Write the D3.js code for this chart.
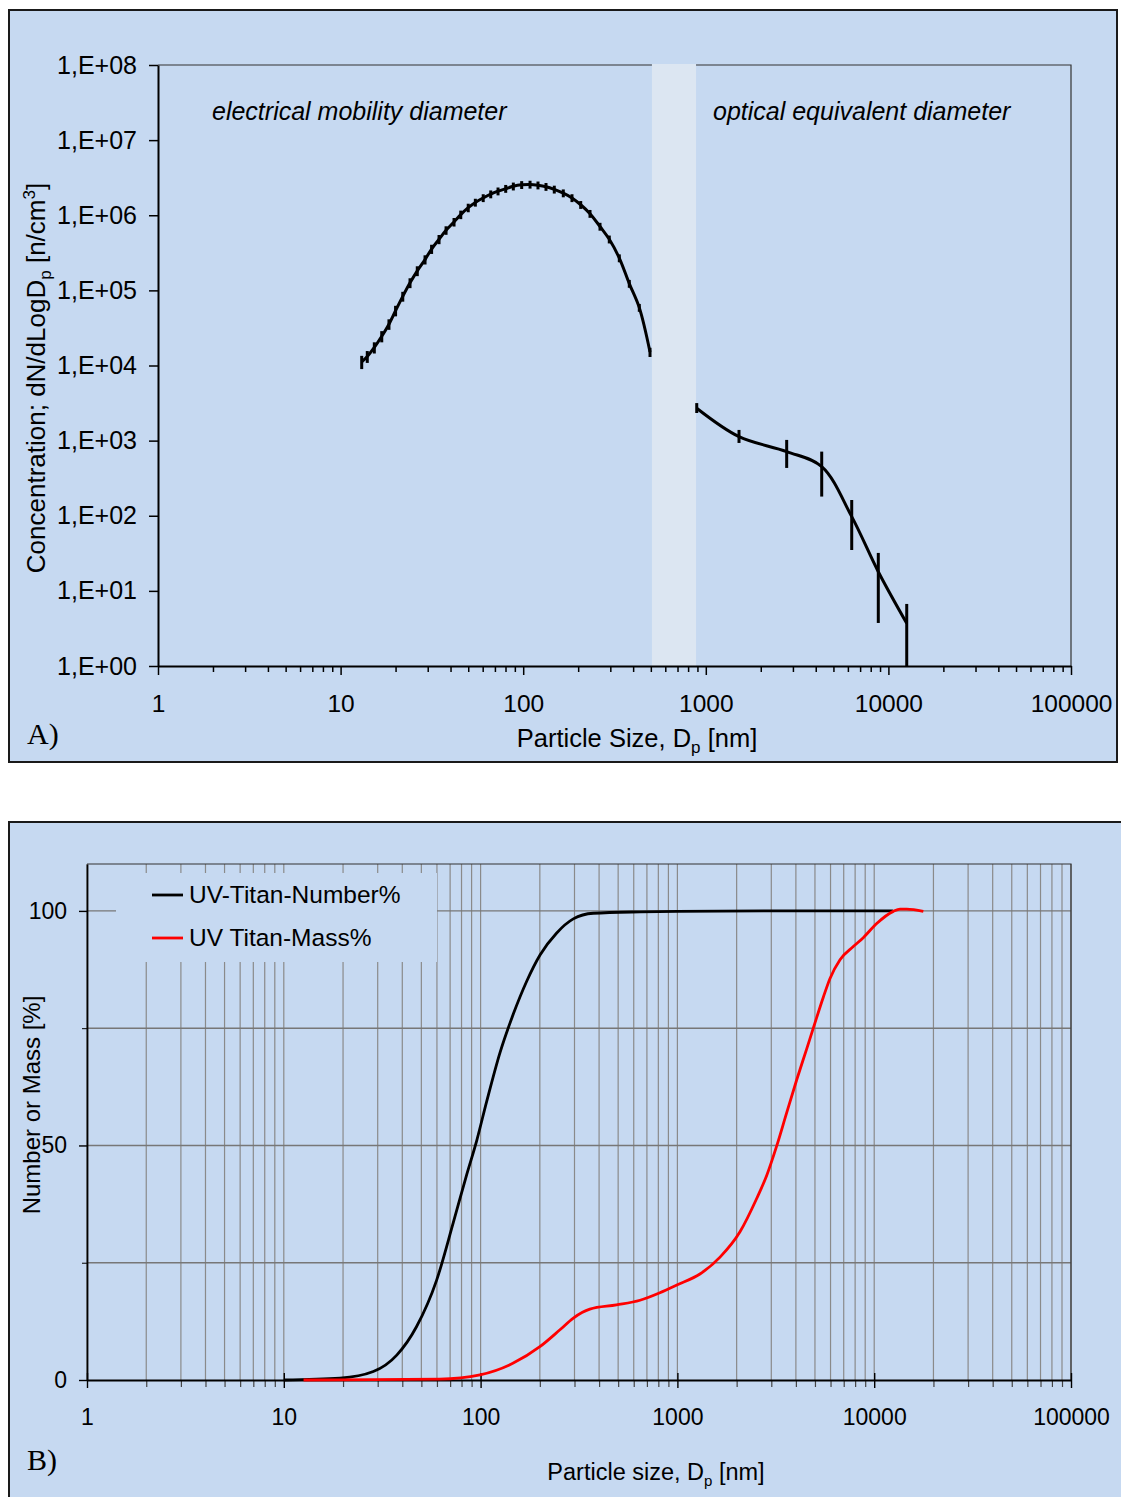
<!DOCTYPE html>
<html>
<head>
<meta charset="utf-8">
<script src="https://cdn.jsdelivr.net/npm/d3@7"></script>
<style>
body { margin: 0; background: #fff; }
svg { display: block; font-family: "Liberation Sans", Arial, sans-serif; }
</style>
</head>
<body>
<svg id="chart" width="1121" height="1497"></svg>
<script>
// ---- panel A: size distribution (SMPS + OPC) ----
smpsSize = [13.05, 14.0, 15.3, 16.8, 18.4, 20.0, 21.9, 24.0, 26.3, 29.0, 31.5, 34.6, 37.8, 41.8, 45.5,
            50.0, 54.7, 60.4, 66.4, 72.8, 80.2, 88.3, 98.1, 109, 120.5, 133.3, 148.0, 165.8, 185.0,
            206.5, 232.2, 263.4, 296.1, 336.0, 381.1, 432.3, 494.8];
smpsConc = [1.12e4, 1.32e4, 1.74e4, 2.45e4, 3.55e4, 5.37e4, 8.32e4, 1.26e5, 1.82e5, 2.57e5, 3.55e5,
            4.79e5, 6.31e5, 8.13e5, 1.02e6, 1.26e6, 1.48e6, 1.70e6, 1.91e6, 2.09e6, 2.26e6, 2.43e6,
            2.54e6, 2.57e6, 2.51e6, 2.40e6, 2.21e6, 1.97e6, 1.70e6, 1.38e6, 1.05e6, 7.08e5, 4.79e5,
            2.69e5, 1.23e5, 5.89e4, 1.51e4];
smpsErr  = [0.20, 0.18, 0.17, 0.17, 0.16, 0.16, 0.15, 0.15, 0.15, 0.14, 0.14, 0.14, 0.13, 0.13, 0.13,
            0.13, 0.12, 0.12, 0.12, 0.12, 0.12, 0.12, 0.12, 0.12, 0.12, 0.12, 0.12, 0.12, 0.12,
            0.12, 0.12, 0.12, 0.12, 0.12, 0.12, 0.12, 0.14];

opcSize  = [892, 1520, 2773, 4313, 6297, 8804, 12600];
opcConc  = [2700, 1130, 714, 451, 97.3, 18.0, 3.70];
opcLo    = [2330, 931, 433, 180, 35, 3.74, 0.5];
opcHi    = [3160, 1388, 1022, 714, 162, 32, 6.7];

bandRange = [507, 884];

yTickLabelsA = ["1,E+00", "1,E+01", "1,E+02", "1,E+03", "1,E+04", "1,E+05", "1,E+06", "1,E+07", "1,E+08"];
xTickLabels  = ["1", "10", "100", "1000", "10000", "100000"];

// ---- panel B: cumulative number / mass ----
numSize  = [10, 19.3, 28.5, 37.5, 47.3, 59.8, 72.7, 85.0, 95.5, 107.4, 125.5, 146.6, 171.5, 200.4,
            243.6, 295.8, 373.8, 645.6, 1000, 3000, 12450];
numPct   = [0, 0.4, 1.8, 5.3, 11.4, 21.3, 33.6, 43.8, 51.0, 59.4, 69.8, 78.0, 85.0, 90.6,
            95.3, 98.3, 99.5, 99.8, 99.9, 100, 100];

massSize = [12.6, 62, 99.3, 146.6, 200, 253, 296, 359, 490, 646, 815, 1000, 1302, 1647, 2080,
            2529, 2843, 3196, 3593, 4039, 4540, 4903, 5513, 5963, 6704, 7830, 8803, 10296,
            12508, 13525, 14628, 17770];
massPct  = [0, 0.2, 1.1, 3.6, 7.1, 10.7, 13.2, 15.1, 16.0, 17.0, 18.6, 20.3, 22.6, 26.2, 31.6,
            38.7, 43.6, 49.9, 57.0, 64.0, 70.6, 75.0, 81.6, 85.6, 89.6, 92.4, 94.3, 97.3,
            99.9, 100.4, 100.4, 99.9];

yTickValuesB = [0, 50, 100];
yTickLabelsB = ["0", "50", "100"];
yGridB = [25, 50, 75, 100];
legendNames = ["UV-Titan-Number%", "UV Titan-Mass%"];
legendColors = ["#000000", "#ff0000"];

const bg = "#c6d9f1";
const svg = d3.select("#chart");
const decades = [1, 10, 100, 1000, 10000, 100000];

function drawPanelA() {
  const x = d3.scaleLog().domain([1, 1e5]).range([158, 1071]);
  const y = d3.scaleLog().domain([1, 1e8]).range([666, 65]);

  svg.append("rect")
      .attr("x", 9).attr("y", 10).attr("width", 1108).attr("height", 752)
      .attr("fill", bg).attr("stroke", "#1a1a1a").attr("stroke-width", 2);

  svg.append("defs").append("clipPath").attr("id", "clipA")
    .append("rect")
      .attr("x", x(1)).attr("y", y(1e8))
      .attr("width", x(1e5) - x(1)).attr("height", y(1) - y(1e8) + 1);

  // plot area border (top / right)
  svg.append("path")
      .attr("d", `M${x(1)},${y(1e8)}H${x(1e5)}V${y(1)}`)
      .attr("fill", "none").attr("stroke", "#333").attr("stroke-width", 1.2);

  // shaded gap between the two instruments
  svg.append("rect")
      .attr("x", x(bandRange[0])).attr("y", y(1e8) - 1)
      .attr("width", x(bandRange[1]) - x(bandRange[0])).attr("height", y(1) - y(1e8) + 1)
      .attr("fill", "#dce6f2");

  // x axis: major + minor ticks
  const minor = x.ticks().filter(d => !decades.includes(d));
  const xAxisMinor = svg.append("g").attr("transform", `translate(0,${y(1)})`)
      .call(d3.axisBottom(x).tickValues(minor).tickSize(6).tickSizeOuter(0).tickFormat(""));
  xAxisMinor.select(".domain").remove();
  xAxisMinor.selectAll("line").attr("stroke-width", 1.5);

  const xAxis = svg.append("g").attr("transform", `translate(0,${y(1)})`)
      .call(d3.axisBottom(x).tickValues(decades).tickSize(9).tickSizeOuter(0)
        .tickFormat((d, i) => xTickLabels[i]));
  xAxis.select(".domain").attr("stroke-width", 2);
  xAxis.selectAll("line").attr("stroke-width", 1.5);
  xAxis.selectAll("text").attr("dy", null).attr("y", 46)
      .style("font-size", "24.5px").attr("fill", "#000");

  const yAxis = svg.append("g").attr("transform", `translate(${x(1)},0)`)
      .call(d3.axisLeft(y).tickValues(d3.range(9).map(i => Math.pow(10, i)))
        .tickSize(9).tickSizeOuter(0).tickPadding(12)
        .tickFormat((d, i) => yTickLabelsA[i]));
  yAxis.select(".domain").attr("stroke-width", 2);
  yAxis.selectAll("line").attr("stroke-width", 1.5);
  yAxis.selectAll("text").style("font-size", "25px").attr("fill", "#000");

  // curves + error bars
  const plot = svg.append("g").attr("clip-path", "url(#clipA)");
  const line = d3.line()
      .x(d => x(d[0])).y(d => y(d[1]))
      .curve(d3.curveCatmullRom.alpha(0.5));

  const smps = smpsSize.map((s, i) => [s, smpsConc[i], smpsConc[i] * (1 - smpsErr[i]), smpsConc[i] * (1 + smpsErr[i])]);
  const opc = opcSize.map((s, i) => [s, opcConc[i], opcLo[i], opcHi[i]]);

  [smps, opc].forEach(series => {
    plot.append("g")
      .selectAll("line")
      .data(series)
      .join("line")
        .attr("x1", d => x(d[0])).attr("x2", d => x(d[0]))
        .attr("y1", d => y(d[2])).attr("y2", d => y(d[3]))
        .attr("stroke", "#000").attr("stroke-width", 3);
    plot.append("path")
        .datum(series)
        .attr("d", line)
        .attr("fill", "none").attr("stroke", "#000").attr("stroke-width", 3);
  });

  // labels
  svg.append("text").attr("x", 212).attr("y", 120)
      .style("font-size", "25px").style("font-style", "italic")
      .text("electrical mobility diameter");
  svg.append("text").attr("x", 713).attr("y", 120)
      .style("font-size", "25px").style("font-style", "italic")
      .text("optical equivalent diameter");

  const xt = svg.append("text").attr("x", 637).attr("y", 747)
      .attr("text-anchor", "middle").style("font-size", "25.5px");
  xt.append("tspan").text("Particle Size, D");
  xt.append("tspan").attr("dy", 6).style("font-size", "17px").text("p");
  xt.append("tspan").attr("dy", -6).text(" [nm]");

  const yt = svg.append("text")
      .attr("transform", "translate(45,378) rotate(-90)")
      .attr("text-anchor", "middle").style("font-size", "26px");
  yt.append("tspan").text("Concentration; dN/dLogD");
  yt.append("tspan").attr("dy", 6).style("font-size", "17px").text("p");
  yt.append("tspan").attr("dy", -6).text(" [n/cm");
  yt.append("tspan").attr("dy", -10).style("font-size", "17px").text("3");
  yt.append("tspan").attr("dy", 10).text("]");

  svg.append("text").attr("x", 27).attr("y", 744)
      .style("font-family", "'Liberation Serif', 'Times New Roman', serif")
      .style("font-size", "30px").text("A)");
}

function drawPanelB() {
  const x = d3.scaleLog().domain([1, 1e5]).range([87, 1071]);
  const y = d3.scaleLinear().domain([0, 110]).range([1380, 864]);

  svg.append("rect")
      .attr("x", 9).attr("y", 822).attr("width", 1130).attr("height", 700)
      .attr("fill", bg).attr("stroke", "#1a1a1a").attr("stroke-width", 2);

  // gridlines
  svg.append("g")
    .selectAll("line")
    .data(x.ticks())
    .join("line")
      .attr("x1", d => x(d)).attr("x2", d => x(d))
      .attr("y1", y(0)).attr("y2", y(110))
      .attr("stroke", "#8a8a8a").attr("stroke-width", 1.2);
  svg.append("g")
    .selectAll("line")
    .data(yGridB)
    .join("line")
      .attr("x1", x(1)).attr("x2", x(1e5))
      .attr("y1", d => y(d)).attr("y2", d => y(d))
      .attr("stroke", "#777").attr("stroke-width", 1.4);

  svg.append("path")
      .attr("d", `M${x(1)},${y(110)}H${x(1e5)}V${y(0)}`)
      .attr("fill", "none").attr("stroke", "#333").attr("stroke-width", 1.2);

  // legend (masks the grid behind it)
  svg.append("rect")
      .attr("x", 116).attr("y", 873).attr("width", 321).attr("height", 89)
      .attr("fill", bg);
  const leg = svg.append("g")
    .selectAll("g")
    .data(legendNames)
    .join("g")
      .attr("transform", (d, i) => `translate(152,${903 + i * 43})`);
  leg.append("line")
      .attr("x1", 0).attr("x2", 31).attr("y1", -8).attr("y2", -8)
      .attr("stroke", (d, i) => legendColors[i]).attr("stroke-width", 2.8);
  leg.append("text")
      .attr("x", 37).style("font-size", "24.5px")
      .text(d => d);

  // axes
  const minor = x.ticks().filter(d => !decades.includes(d));
  const xAxisMinor = svg.append("g").attr("transform", `translate(0,${y(0)})`)
      .call(d3.axisBottom(x).tickValues(minor).tickSize(7).tickSizeOuter(0).tickFormat(""));
  xAxisMinor.select(".domain").remove();
  xAxisMinor.selectAll("line").attr("stroke", "#444").attr("stroke-width", 1.2);

  const xAxis = svg.append("g").attr("transform", `translate(0,${y(0)})`)
      .call(d3.axisBottom(x).tickValues(decades).tickSize(8).tickSizeOuter(0)
        .tickFormat((d, i) => xTickLabels[i]));
  xAxis.select(".domain").attr("stroke-width", 1.8);
  xAxis.selectAll("line").attr("y1", -7).attr("stroke-width", 1.4);
  xAxis.selectAll("text").attr("dy", null).attr("y", 45)
      .style("font-size", "23px").attr("fill", "#000");

  const yMinor = svg.append("g").attr("transform", `translate(${x(1)},0)`)
      .call(d3.axisLeft(y).tickValues([25, 75]).tickSize(5).tickSizeOuter(0).tickFormat(""));
  yMinor.select(".domain").remove();

  const yAxis = svg.append("g").attr("transform", `translate(${x(1)},0)`)
      .call(d3.axisLeft(y).tickValues(yTickValuesB).tickSize(8).tickSizeOuter(0).tickPadding(12)
        .tickFormat((d, i) => yTickLabelsB[i]));
  yAxis.select(".domain").attr("stroke-width", 1.8);
  yAxis.selectAll("line").attr("stroke-width", 1.4);
  yAxis.selectAll("text").style("font-size", "23px").attr("fill", "#000");

  // curves
  const line = d3.line()
      .x(d => x(d[0])).y(d => y(d[1]))
      .curve(d3.curveMonotoneX);
  svg.append("path")
      .datum(numSize.map((s, i) => [s, numPct[i]]))
      .attr("d", line)
      .attr("fill", "none").attr("stroke", legendColors[0]).attr("stroke-width", 2.8);
  svg.append("path")
      .datum(massSize.map((s, i) => [s, massPct[i]]))
      .attr("d", line)
      .attr("fill", "none").attr("stroke", legendColors[1]).attr("stroke-width", 2.8);

  const xt = svg.append("text").attr("x", 656).attr("y", 1480)
      .attr("text-anchor", "middle").style("font-size", "23.5px");
  xt.append("tspan").text("Particle size, D");
  xt.append("tspan").attr("dy", 6).style("font-size", "15px").text("p");
  xt.append("tspan").attr("dy", -6).text(" [nm]");

  svg.append("text")
      .attr("transform", "translate(40,1105) rotate(-90)")
      .attr("text-anchor", "middle").style("font-size", "24px")
      .text("Number or Mass [%]");

  svg.append("text").attr("x", 27).attr("y", 1470)
      .style("font-family", "'Liberation Serif', 'Times New Roman', serif")
      .style("font-size", "30px").text("B)");
}

drawPanelA();
drawPanelB();
</script>
</body>
</html>
